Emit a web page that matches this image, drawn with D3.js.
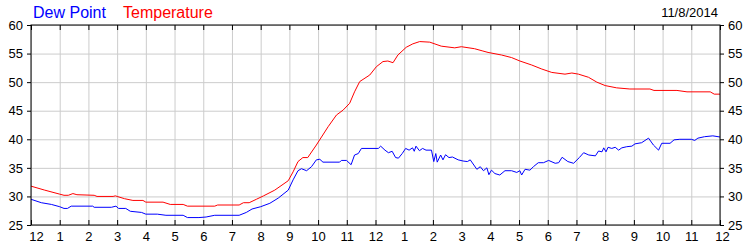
<!DOCTYPE html>
<html>
<head>
<meta charset="utf-8">
<script src="https://cdn.jsdelivr.net/npm/d3@7"></script>
<style>
  body { margin: 0; background: #fff; }
  svg { display: block; font-family: Arial, "Liberation Sans", sans-serif; }
</style>
</head>
<body>
<svg id="chart" width="750" height="250"></svg>
<script>
// hours since midnight
const hourTicks = d3.range(0, 25);
const hourLabels = ['12','1','2','3','4','5','6','7','8','9','10','11','12','1','2','3','4','5','6','7','8','9','10','11','12'];
const tempTicks = [25, 30, 35, 40, 45, 50, 55, 60];
const dateLabel = '11/8/2014';

const tempTimes = [0, 0.48, 1.0, 1.15, 1.3, 1.46, 1.6, 2.2, 2.3, 2.86, 2.94, 3.0, 3.26, 3.55, 3.9, 4.0, 4.6, 4.85, 5.3, 5.45,
  6.4, 6.5, 7.25, 7.4, 7.6, 7.85, 8.1, 8.49, 8.96, 9.13, 9.3, 9.47, 9.64, 9.94, 10.35, 10.64, 10.87, 11.1, 11.27, 11.45,
  11.8, 12.03, 12.26, 12.43, 12.61, 12.78, 13.07, 13.3, 13.54, 13.89, 14.29, 14.76, 14.99, 15.45, 15.74, 15.92, 16.39, 16.74, 17.03, 17.44,
  17.79, 18.14, 18.6, 18.84, 19.07, 19.42, 19.71, 20.0, 20.4, 20.86, 21.56, 21.7, 22.5, 22.85, 23.66, 23.8, 24];
const tempValues = [31.8, 31.1, 30.4, 30.2, 30.2, 30.5, 30.3, 30.2, 30.0, 30.0, 30.1, 30.0, 29.6, 29.3, 29.3, 29.0, 29.0, 28.6, 28.6, 28.3,
  28.3, 28.5, 28.5, 28.9, 28.9, 29.5, 30.1, 31.1, 32.75, 34.3, 36.1, 36.8, 36.8, 39.0, 42.2, 44.25, 45.1, 46.3, 48.3, 50.1,
  51.25, 52.7, 53.6, 53.7, 53.4, 54.75, 56.1, 56.7, 57.1, 57.0, 56.3, 56.0, 56.2, 55.85, 55.45, 55.2, 54.75, 54.3, 53.7, 53.0,
  52.3, 51.7, 51.4, 51.6, 51.4, 50.85, 50.0, 49.4, 49.0, 48.8, 48.8, 48.55, 48.55, 48.3, 48.3, 47.9, 47.9];

const dewTimes = [0, 0.36, 0.71, 1.0, 1.15, 1.27, 1.4, 2.15, 2.2, 2.8, 2.96, 3.05, 3.3, 3.46, 3.85, 4.0, 4.4, 4.7, 5.3, 5.45,
  5.85, 6.1, 6.4, 7.25, 7.5, 7.7, 8.0, 8.32, 8.61, 8.96, 9.13, 9.3, 9.42, 9.6, 9.77, 9.94, 10.06, 10.17, 10.75, 10.81,
  10.99, 11.15, 11.27, 11.4, 11.51, 12.1, 12.18, 12.33, 12.45, 12.58, 12.7, 12.8, 12.93, 13.05, 13.17, 13.29, 13.35, 13.41, 13.53, 13.64,
  13.76, 13.95, 14.03, 14.1, 14.15, 14.27, 14.35, 14.44, 14.56, 14.68, 14.88, 15.05, 15.2, 15.3, 15.53, 15.65, 15.76, 15.88, 15.95, 16.04,
  16.16, 16.33, 16.51, 16.74, 16.92, 17.03, 17.09, 17.21, 17.38, 17.5, 17.67, 17.85, 18.03, 18.26, 18.38, 18.5, 18.7, 18.9, 19.1, 19.25,
  19.43, 19.66, 19.77, 19.89, 19.95, 20.03, 20.1, 20.23, 20.35, 20.47, 20.58, 20.75, 20.93, 21.04, 21.27, 21.51, 21.68, 21.86, 21.97, 22.26,
  22.4, 22.6, 23.0, 23.12, 23.23, 23.46, 23.75, 24];
const dewValues = [29.5, 28.9, 28.6, 28.2, 27.9, 27.9, 28.3, 28.3, 28.1, 28.1, 28.3, 27.9, 27.9, 27.4, 27.2, 26.9, 26.9, 26.7, 26.7, 26.3,
  26.3, 26.4, 26.7, 26.7, 27.2, 27.8, 28.2, 28.8, 29.7, 31.1, 32.9, 34.5, 34.85, 34.5, 35.2, 36.4, 36.5, 36.0, 36.0, 36.3,
  36.3, 35.55, 37.25, 37.5, 38.4, 38.4, 38.8, 38.1, 37.65, 37.9, 36.8, 36.7, 37.5, 38.4, 38.1, 38.5, 37.9, 38.8, 38.0, 38.4,
  38.1, 38.1, 36.1, 37.5, 36.0, 37.25, 36.4, 37.3, 36.8, 36.9, 36.4, 36.2, 36.1, 36.4, 34.75, 35.2, 34.5, 35.0, 33.8, 34.6,
  34.0, 33.75, 34.5, 34.5, 34.2, 34.5, 33.75, 34.75, 34.6, 35.2, 35.9, 35.9, 36.3, 35.8, 35.9, 36.85, 36.1, 35.8, 36.8, 37.65,
  37.25, 37.1, 37.95, 37.8, 38.5, 37.8, 38.6, 38.4, 38.6, 38.1, 38.5, 38.7, 38.8, 39.2, 39.4, 40.2, 39.0, 38.1, 39.3, 39.3,
  39.9, 40.0, 40.0, 39.8, 40.2, 40.45, 40.6, 40.4];

const svg = d3.select('#chart');
const plotLeft = 31, plotRight = 720, plotTop = 25, plotBottom = 225;

const x = d3.scaleLinear().domain([0, 24]).range([plotLeft, plotRight]);
const y = d3.scaleLinear().domain([25, 60]).range([plotBottom, plotTop]);

// grid
svg.append('g')
  .attr('transform', `translate(0,${plotBottom})`)
  .call(d3.axisBottom(x).tickValues(hourTicks).tickSize(-(plotBottom - plotTop)).tickFormat(''))
  .call(g => g.select('.domain').remove())
  .call(g => g.selectAll('line').attr('stroke', '#cccccc'));
svg.append('g')
  .attr('transform', `translate(${plotLeft},0)`)
  .call(d3.axisLeft(y).tickValues(tempTicks).tickSize(-(plotRight - plotLeft)).tickFormat(''))
  .call(g => g.select('.domain').remove())
  .call(g => g.selectAll('line').attr('stroke', '#cccccc'));

// series
const line = d3.line().x(d => x(d[0])).y(d => y(d[1]));
svg.append('path')
  .datum(dewTimes.map((t, i) => [t, dewValues[i]]))
  .attr('fill', 'none').attr('stroke', '#0000ff').attr('stroke-width', 1)
  .attr('d', line);
svg.append('path')
  .datum(tempTimes.map((t, i) => [t, tempValues[i]]))
  .attr('fill', 'none').attr('stroke', '#ff0000').attr('stroke-width', 1)
  .attr('d', line);

// frame
svg.append('rect')
  .attr('x', plotLeft).attr('y', plotTop)
  .attr('width', plotRight - plotLeft).attr('height', plotBottom - plotTop)
  .attr('fill', 'none').attr('stroke', '#000');

// inward hour ticks, top and bottom
svg.append('g')
  .attr('transform', `translate(0,${plotTop})`)
  .call(d3.axisBottom(x).tickValues(hourTicks).tickSize(5).tickFormat(''))
  .call(g => g.select('.domain').remove());
svg.append('g')
  .attr('transform', `translate(0,${plotBottom})`)
  .call(d3.axisTop(x).tickValues(hourTicks).tickSize(5).tickFormat(''))
  .call(g => g.select('.domain').remove());

// hour labels
const xLabels = svg.append('g')
  .attr('transform', `translate(0,${plotBottom})`)
  .call(d3.axisBottom(x).tickValues(hourTicks).tickSize(0).tickPadding(7)
    .tickFormat((d, i) => hourLabels[i]))
  .call(g => g.select('.domain').remove());
xLabels.selectAll('text')
  .attr('font-size', 13).attr('font-family', 'Arial, "Liberation Sans", sans-serif').attr('fill', '#000');
xLabels.selectAll('.tick').filter(d => d === 0).select('text').attr('dx', 5);
xLabels.selectAll('.tick').filter(d => d === 24).select('text').attr('dx', 2);

// temperature axes, left and right
[d3.axisLeft(y), d3.axisRight(y)].forEach((axis, k) => {
  svg.append('g')
    .attr('transform', `translate(${k === 0 ? plotLeft : plotRight},0)`)
    .call(axis.tickValues(tempTicks).tickSize(4).tickPadding(4))
    .call(g => g.select('.domain').remove())
    .call(g => g.selectAll('text')
      .attr('font-size', 13).attr('font-family', 'Arial, "Liberation Sans", sans-serif').attr('fill', '#000'));
});

// legend and date
svg.append('text').attr('x', 33).attr('y', 18).attr('font-size', 16).attr('fill', '#0000ff').text('Dew Point');
svg.append('text').attr('x', 123).attr('y', 18).attr('font-size', 16).attr('fill', '#ff0000').text('Temperature');
svg.append('text').attr('x', 718).attr('y', 17).attr('font-size', 13).attr('text-anchor', 'end').attr('fill', '#000').text(dateLabel);
</script>
</body>
</html>
